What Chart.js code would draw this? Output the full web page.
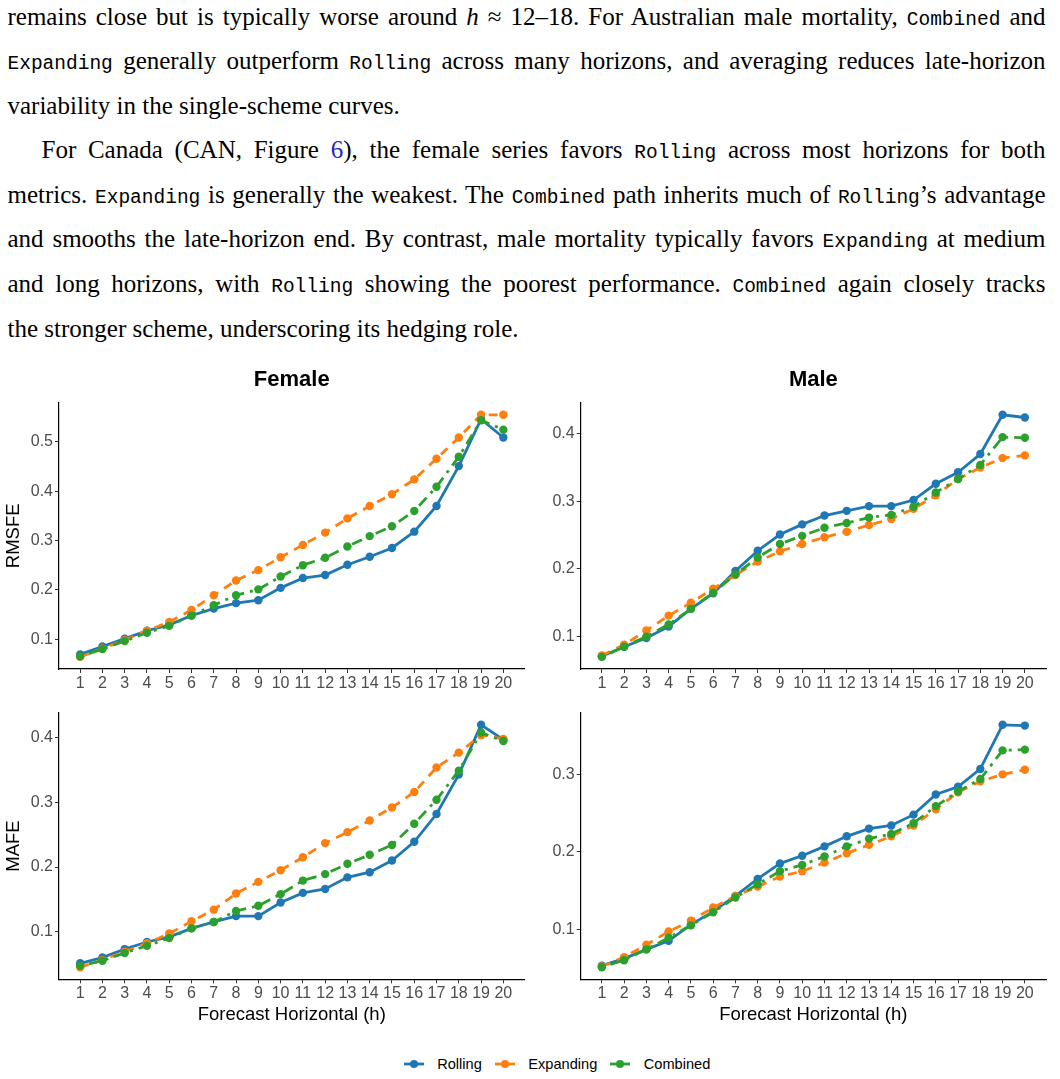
<!DOCTYPE html>
<html>
<head>
<meta charset="utf-8">
<title>CAN forecast errors</title>
<script src="https://cdn.jsdelivr.net/npm/chart.js@4.4.1/dist/chart.umd.min.js"></script>
<style>
  body { margin: 0; width: 1060px; height: 1079px; background: #fff; position: relative; overflow: hidden; }
  #text { position: absolute; left: 7.5px; top: -5.5px; width: 1038px; font-family: "Liberation Serif", serif; font-size: 25px; line-height: 44.6px; color: #000; }
  .ln { height: 44.6px; text-align: justify; text-align-last: justify; }
  .ln.last { text-align-last: left; }
  .ln.ind { padding-left: 34px; }
  .tt { font-family: "Liberation Mono", monospace; font-size: 19.5px; line-height: 1; }
  .ref { color: #2424b8; }
  canvas { position: absolute; }
  #legend { position: absolute; left: 0; top: 1052px; width: 1114px; display: flex; justify-content: center; align-items: center; height: 24px;
            font-family: "Liberation Sans", Arial, sans-serif; font-size: 14.6px; color: #000; }
  #legend .item { display: flex; align-items: center; margin-right: 13px; }
  #legend .item:last-child { margin-right: 0; }
  #legend svg { margin-right: 13.5px; }
</style>
</head>
<body>

<div id="text">
  <div class="ln">remains close but is typically worse around <i>h</i> &asymp; 12&ndash;18. For Australian male mortality, <span class="tt">Combined</span> and</div>
  <div class="ln"><span class="tt">Expanding</span> generally outperform <span class="tt">Rolling</span> across many horizons, and averaging reduces late-horizon</div>
  <div class="ln last">variability in the single-scheme curves.</div>
  <div class="ln ind">For Canada (CAN, Figure <span class="ref">6</span>), the female series favors <span class="tt">Rolling</span> across most horizons for both</div>
  <div class="ln">metrics. <span class="tt">Expanding</span> is generally the weakest. The <span class="tt">Combined</span> path inherits much of <span class="tt">Rolling</span>&rsquo;s advantage</div>
  <div class="ln">and smooths the late-horizon end. By contrast, male mortality typically favors <span class="tt">Expanding</span> at medium</div>
  <div class="ln">and long horizons, with <span class="tt">Rolling</span> showing the poorest performance. <span class="tt">Combined</span> again closely tracks</div>
  <div class="ln last">the stronger scheme, underscoring its hedging role.</div>
</div>

<canvas id="femaleRmsfe" width="535" height="335" style="left:0;top:360px"></canvas>
<canvas id="maleRmsfe" width="530" height="335" style="left:530px;top:360px"></canvas>
<canvas id="femaleMafe" width="535" height="350" style="left:0;top:690px"></canvas>
<canvas id="maleMafe" width="530" height="350" style="left:530px;top:690px"></canvas>

<div id="legend"></div>

<script>
var horizons = [1, 2, 3, 4, 5, 6, 7, 8, 9, 10, 11, 12, 13, 14, 15, 16, 17, 18, 19, 20]
var schemes = ['Rolling', 'Expanding', 'Combined']
var schemeColors = ['#1f77b4', '#ff7f0e', '#2ca02c']
var schemeDash = [[], [9, 7], [3, 6, 11, 6]]

var femaleRmsfeRolling   = [0.069, 0.085, 0.101, 0.117, 0.129, 0.148, 0.162, 0.173, 0.179, 0.204, 0.224, 0.230, 0.251, 0.267, 0.285, 0.318, 0.370, 0.451, 0.546, 0.509]
var femaleRmsfeExpanding = [0.064, 0.081, 0.098, 0.117, 0.135, 0.159, 0.189, 0.219, 0.240, 0.266, 0.291, 0.316, 0.345, 0.370, 0.394, 0.424, 0.466, 0.509, 0.555, 0.555]
var femaleRmsfeCombined  = [0.065, 0.080, 0.096, 0.113, 0.127, 0.148, 0.169, 0.189, 0.201, 0.227, 0.250, 0.265, 0.288, 0.309, 0.329, 0.360, 0.409, 0.470, 0.544, 0.525]

var maleRmsfeRolling   = [0.071, 0.085, 0.098, 0.115, 0.141, 0.164, 0.197, 0.227, 0.251, 0.266, 0.279, 0.286, 0.293, 0.293, 0.302, 0.326, 0.343, 0.370, 0.428, 0.424]
var maleRmsfeExpanding = [0.072, 0.088, 0.109, 0.131, 0.150, 0.171, 0.191, 0.211, 0.226, 0.237, 0.247, 0.255, 0.265, 0.274, 0.289, 0.309, 0.333, 0.350, 0.364, 0.368]
var maleRmsfeCombined  = [0.070, 0.085, 0.100, 0.118, 0.141, 0.165, 0.192, 0.217, 0.237, 0.249, 0.261, 0.268, 0.276, 0.280, 0.292, 0.313, 0.333, 0.354, 0.395, 0.394]

var femaleMafeRolling   = [0.051, 0.060, 0.073, 0.084, 0.092, 0.105, 0.115, 0.124, 0.124, 0.145, 0.160, 0.166, 0.184, 0.192, 0.210, 0.239, 0.282, 0.343, 0.420, 0.397]
var femaleMafeExpanding = [0.045, 0.056, 0.069, 0.082, 0.097, 0.116, 0.134, 0.159, 0.177, 0.195, 0.215, 0.237, 0.254, 0.272, 0.292, 0.316, 0.354, 0.377, 0.404, 0.398]
var femaleMafeCombined  = [0.047, 0.055, 0.067, 0.078, 0.090, 0.105, 0.115, 0.132, 0.140, 0.158, 0.179, 0.189, 0.205, 0.219, 0.234, 0.267, 0.304, 0.349, 0.408, 0.395]

var maleMafeRolling   = [0.053, 0.062, 0.074, 0.085, 0.106, 0.123, 0.143, 0.165, 0.185, 0.195, 0.207, 0.220, 0.230, 0.234, 0.248, 0.274, 0.284, 0.307, 0.364, 0.363]
var maleMafeExpanding = [0.052, 0.064, 0.080, 0.097, 0.111, 0.128, 0.143, 0.155, 0.168, 0.175, 0.186, 0.198, 0.209, 0.220, 0.234, 0.255, 0.277, 0.291, 0.300, 0.306]
var maleMafeCombined  = [0.051, 0.060, 0.074, 0.089, 0.105, 0.122, 0.141, 0.158, 0.175, 0.183, 0.194, 0.207, 0.217, 0.223, 0.237, 0.259, 0.278, 0.294, 0.331, 0.332]

var femaleRmsfeTicks = [0.1, 0.2, 0.3, 0.4, 0.5]
var maleRmsfeTicks = [0.1, 0.2, 0.3, 0.4]
var femaleMafeTicks = [0.1, 0.2, 0.3, 0.4]
var maleMafeTicks = [0.1, 0.2, 0.3]

var sans = '"Liberation Sans", Arial, sans-serif'

function makeDataset(i, values) {
    return {
        label: schemes[i],
        data: values.map(function (v, k) { return { x: horizons[k], y: v } }),
        borderColor: schemeColors[i],
        backgroundColor: schemeColors[i],
        borderWidth: 2.8,
        borderDash: schemeDash[i],
        pointRadius: 4.2,
        pointBorderWidth: 0,
        pointBackgroundColor: schemeColors[i],
        tension: 0,
        order: 3 - i
    }
}

function renderPanel(id, series, ticks, cfg) {
    var all = [].concat.apply([], series)
    var lo = Math.min.apply(null, all)
    var hi = Math.max.apply(null, all)
    var pad = (hi - lo) * 0.05
    var xPad = (horizons[horizons.length - 1] - horizons[0]) * 0.05

    new Chart(document.getElementById(id), {
        type: 'line',
        data: { datasets: series.map(function (s, i) { return makeDataset(i, s) }) },
        options: {
            responsive: false,
            animation: false,
            events: [],
            layout: { padding: { top: cfg.padTop, right: cfg.padRight, bottom: 0, left: 0 } },
            plugins: {
                legend: { display: false },
                tooltip: { enabled: false },
                title: {
                    display: !!cfg.title,
                    text: cfg.title,
                    fullSize: false,
                    color: '#000',
                    font: { family: sans, size: 22, weight: 'bold' },
                    padding: { top: 6.3, bottom: 10 }
                }
            },
            scales: {
                x: {
                    type: 'linear',
                    min: horizons[0] - xPad,
                    max: horizons[horizons.length - 1] + xPad,
                    afterBuildTicks: function (s) { s.ticks = horizons.map(function (h) { return { value: h } }) },
                    afterFit: function (s) { s.height = cfg.xHeight; s.paddingLeft = 0; s.paddingRight = 0 },
                    ticks: { color: '#4d4d4d', font: { family: sans, size: 16 }, padding: 1, maxRotation: 0, autoSkip: false,
                             callback: function (v) { return String(v) } },
                    grid: { drawOnChartArea: false, drawTicks: true, tickLength: 4, color: '#333', lineWidth: 1 },
                    border: { display: true, color: '#000', width: 1.2 },
                    title: {
                        display: !!cfg.xTitle,
                        text: cfg.xTitle,
                        color: '#000',
                        font: { family: sans, size: 18.5 },
                        padding: { top: 0, bottom: 13.9 }
                    }
                },
                y: {
                    type: 'linear',
                    min: lo - pad,
                    max: hi + pad,
                    afterBuildTicks: function (s) { s.ticks = ticks.map(function (t) { return { value: t } }) },
                    afterFit: function (s) { s.width = cfg.yWidth; s.paddingTop = 0; s.paddingBottom = 0 },
                    ticks: { color: '#4d4d4d', font: { family: sans, size: 16 }, padding: 2,
                             callback: function (v) { return v.toFixed(1) } },
                    grid: { drawOnChartArea: false, drawTicks: true, tickLength: 4, color: '#333', lineWidth: 1 },
                    border: { display: true, color: '#000', width: 1.2 },
                    title: {
                        display: !!cfg.yTitle,
                        text: cfg.yTitle,
                        color: '#000',
                        font: { family: sans, size: 18.5 },
                        padding: { top: 3, bottom: 0 }
                    }
                }
            }
        }
    })
}

renderPanel('femaleRmsfe', [femaleRmsfeRolling, femaleRmsfeExpanding, femaleRmsfeCombined], femaleRmsfeTicks,
    { title: 'Female', yTitle: 'RMSFE', padTop: 0, padRight: 10.5, xHeight: 26, yWidth: 59 })
renderPanel('maleRmsfe', [maleRmsfeRolling, maleRmsfeExpanding, maleRmsfeCombined], maleRmsfeTicks,
    { title: 'Male', padTop: 0, padRight: 14, xHeight: 26, yWidth: 50.7 })
renderPanel('femaleMafe', [femaleMafeRolling, femaleMafeExpanding, femaleMafeCombined], femaleMafeTicks,
    { yTitle: 'MAFE', xTitle: 'Forecast Horizontal (h)', padTop: 22.7, padRight: 10.5, xHeight: 60.7, yWidth: 59 })
renderPanel('maleMafe', [maleMafeRolling, maleMafeExpanding, maleMafeCombined], maleMafeTicks,
    { xTitle: 'Forecast Horizontal (h)', padTop: 22.7, padRight: 14, xHeight: 60.7, yWidth: 50.7 })

// shared legend under the four panels
var legend = document.getElementById('legend')
schemes.forEach(function (name, i) {
    var item = document.createElement('div')
    item.className = 'item'
    item.innerHTML = '<svg width="20" height="12"><line x1="0" y1="6" x2="20" y2="6" stroke="' + schemeColors[i] +
        '" stroke-width="2.8"/><circle cx="10" cy="6" r="4" fill="' + schemeColors[i] + '"/></svg><span>' + name + '</span>'
    legend.appendChild(item)
})
</script>
</body>
</html>
